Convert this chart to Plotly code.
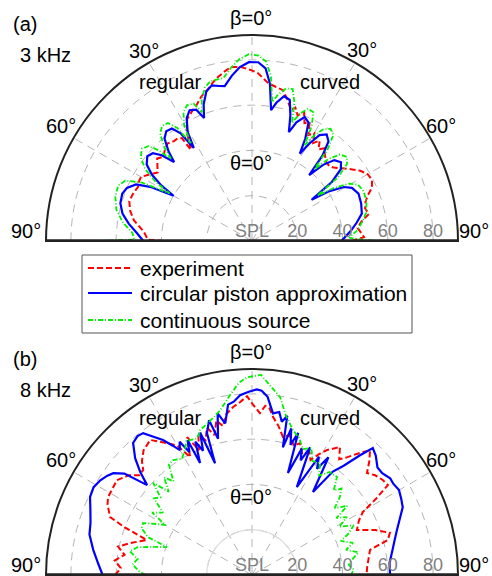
import numpy as np
import plotly.graph_objects as go

# ---------------- data: panel (a) 3 kHz ----------------
theta_a_exp = [-90, -89.3, -85, -80, -76, -72, -68, -64.6, -62, -60, -57, -54, -52, -49, -46.5, -44, -41, -38,
               -36, -34.3, -33.8, -31, -28, -25, -22, -19.5, -16, -14, -11.7, -9, -6.9, -3.6, -0.3, 2, 4, 6,
               8.5, 11.6, 14, 16.6, 18, 20, 22, 24, 26, 28, 30, 32, 34, 36, 38, 40, 43, 46, 48, 51, 54, 57,
               60, 63, 66, 68.5, 71, 74, 77, 80, 83, 86, 88, 90]
r_a_exp = [39, 46, 48, 53, 55.5, 57, 56.5, 55.7, 56.5, 56.6, 54, 51.5, 53, 55.5, 54, 55.5, 57, 56,
           56, 55, 48.4, 56, 61, 63, 65, 67.5, 70, 72, 74, 76, 77.4, 77, 75.5, 74.2, 72, 70,
           69, 68, 64.5, 60.3, 62, 59, 61.5, 57, 58, 53, 55, 51, 53.5, 50, 52, 50, 48, 47.5, 48.5, 51, 54, 57,
           59, 59.5, 58, 55, 53, 52, 53, 49, 47, 48.5, 49.5, 44]

theta_a_pis = [-90, -86, -82, -78, -74, -70, -67, -64, -62, -60, -58.5, -56.5, -54, -51, -48.5, -46.5, -44.6,
               -43, -40.5, -38, -35.5, -33.5, -32, -30.5, -28, -25.5, -23, -21.3, -19.5, -17, -14.5, -12, -10,
               -7, -4, -1, 2, 4.5, 6.5, 8.3, 10, 12.5, 15, 17, 18.7, 20.5, 23, 25.5, 27.5, 28.7, 30.5, 32.5,
               35, 37.5, 39.5, 41, 43, 45.5, 48.5, 51, 53.5, 55.3, 57, 59.5, 62, 66, 71, 76, 80, 84, 90]
r_a_pis = [48, 51, 55, 58.5, 60.5, 61, 60, 57, 51, 40, 47, 53, 57.5, 59.5, 58.5, 55, 49,
           54, 59.5, 61.5, 61, 57, 48.5, 56, 61.5, 64, 63, 58.3, 64, 69, 71, 70, 69.5,
           73.5, 77, 79, 79, 76.5, 70, 58.4, 62, 65.5, 64.5, 58, 50.8, 56, 59.5, 58, 51, 44, 50, 55.5,
           57.5, 55.5, 49, 38.5, 46, 51, 52.5, 50.5, 44, 32, 40, 47, 50, 51.5, 51, 50, 47, 44, 39.5]

theta_a_con = [-90, -89.3, -86, -82, -77, -72, -67.5, -64.5, -62, -60, -58.5, -56, -53, -50, -47.5, -46, -44.6,
               -43, -40.5, -38, -35.5, -33.5, -32, -30.5, -28, -25.5, -23, -21.3, -19.5, -17, -14.5, -12, -10,
               -7, -4, -1, 2, 4.5, 6.5, 8.3, 10, 12.5, 15, 17, 18.7, 20.5, 23, 25.5, 27.5, 28.7, 30.5, 32.5,
               35, 37.5, 39.5, 41, 43, 45.5, 48.5, 51, 53.5, 55.3, 57, 59.5, 62, 66, 71, 76, 80, 84, 88, 89.2, 90]
r_a_con = [68, 52, 53, 57.5, 61.5, 63.5, 64, 62, 55, 42, 50, 57, 61.5, 63.5, 62, 58, 51,
           57, 62.5, 64.5, 64, 60, 51, 59, 64.5, 66.5, 66, 61, 66.5, 71, 73, 73, 73,
           77, 80.5, 82.5, 82, 79.5, 73.5, 62, 65.5, 69, 69.5, 64, 55, 60, 63.5, 63, 57, 48, 54, 58.5,
           60.5, 59, 52.5, 42, 49.5, 54.5, 56, 54, 47, 35, 43, 50, 53, 54, 53.5, 52, 49.5, 47, 43, 48, 55]

# ---------------- data: panel (b) 8 kHz ----------------
theta_b_exp = [-90, -87, -84, -81, -78, -75, -71.6, -69.5, -67.8, -64, -61.6, -58, -54.9, -51, -48.5, -46, -44,
               -41, -37, -35, -32.8, -30, -27.7, -25.2, -23, -21, -19, -17, -15, -13, -11, -9, -6.5, -4, -1.6,
               0.5, 2.8, 4.5, 6, 7.6, 10, 12.7, 15, 18, 20, 22.3, 25, 27, 29, 31, 34.5, 37, 39, 41, 43.4, 46,
               48.4, 51, 54, 56.5, 58.5, 60.4, 63, 66.8, 70, 73, 75.5, 78, 82, 86, 90]
r_b_exp = [60.5, 58, 61, 57, 60.5, 55, 49, 60, 67.7, 71, 72.3, 72.5, 72.9, 70, 66.5, 66.8, 70,
           73, 74.7, 72, 69.3, 66, 58.8, 67.3, 60, 66, 63, 68, 64, 70, 67, 72, 74.6, 76.5, 79,
           75, 71.6, 75, 74, 70.4, 67, 62.4, 64, 60, 62, 58.2, 60, 57, 61, 64.4, 68.6, 64, 67, 71, 75.9, 72,
           67.9, 70, 71.4, 72, 64, 56.3, 53, 50.4, 58, 63.7, 62, 53.3, 52, 51, 50.6]

theta_b_pis = [-90, -86, -81, -76, -72, -68, -64.3, -61, -58, -55.5, -53.7, -51.5, -49.4, -47.4, -45, -42,
               -39.5, -37.5, -35.5, -33.4, -31.5, -30, -28.5, -27, -25.5, -24.9, -23, -21.5, -20, -18.3, -17.6,
               -15.5, -14, -12, -10, -8, -6, -3.8, -1, 1.5, 3, 5, 7.4, 9.5, 11, 12.5, 13.6, 15, 16.5, 18, 19.4,
               21.5, 23, 24.5, 27, 29.5, 31.5, 33, 36.3, 38, 40, 42, 43.6, 46, 49.4, 52, 55, 57, 60, 63, 65.8,
               69, 72.8, 76, 80, 85, 90]
r_b_pis = [66, 68, 71, 74, 75, 77, 79.4, 80, 79, 77.5, 76, 72, 61, 67, 73, 78.5,
           79.5, 79, 75, 71.4, 67, 63.7, 67, 61, 66, 54.5, 64, 59, 67, 52, 65.8,
           71, 62, 73, 68, 76, 77, 79.6, 81, 82, 81.5, 79, 72, 73, 69, 72, 58, 67, 60, 66, 47.8,
           60, 55, 62, 43.6, 60, 55, 62, 45.5, 58, 63, 71, 77.4, 76, 73, 73, 74.5, 74.3, 75, 74, 73,
           70, 67, 65, 63, 61, 61]

theta_b_con = [-90, -88, -85, -82, -79, -76.3, -74, -71.8, -70, -67, -64.5, -62, -60, -58, -55, -52, -49.7,
               -47, -45, -42, -40, -37, -34.5, -31, -28, -26, -22, -19.7, -16, -11, -7, -4, -1.4, 2.6, 5.5, 9,
               12, 15.8, 19, 22, 25, 28, 31.3, 34, 37, 40.9, 44, 46, 48.4, 51, 54, 56, 58.6, 61, 64, 67, 69,
               72.4, 75, 78, 81, 84, 87, 90]
r_b_con = [47, 50, 53, 51, 55, 52, 45, 39.5, 49, 53, 53.3, 48, 44, 52, 48, 55, 53,
           59.7, 52, 58, 54, 61, 61.6, 60, 63, 66, 65, 68, 70, 74, 80, 85, 87.4, 88.5, 84, 79.5,
           72, 66.5, 64, 60, 62, 57, 57.8, 53, 57, 57.3, 52, 55, 51.9, 47, 52, 45, 49.1, 44, 50, 46, 42,
           46.8, 43, 48, 45, 43, 45, 43.7]

# ---------------- axes / labels ----------------
r_max = 91
r_ticks = [0, 20, 40, 60, 80]
r_ticktext = ["SPL", "20", "40", "60", "80"]
ang_grid = [-90, -60, -30, 0, 30, 60, 90]
ang_labels = ["90°", "60°", "30°", "β=0°", "30°", "60°", "90°"]
series_names = ["experiment", "circular piston approximation", "continuous source"]

FONT = "Liberation Sans, Arial, sans-serif"
W, H = 492, 576

fig = go.Figure()

styles = [dict(color="#ff0000", width=2, dash="6px,3px"),
          dict(color="#0000ff", width=2.2),
          dict(color="#00f000", width=1.8, dash="5px,2px,1px,2px")]

panels = [("polar", [(theta_a_exp, r_a_exp), (theta_a_pis, r_a_pis), (theta_a_con, r_a_con)]),
          ("polar2", [(theta_b_exp, r_b_exp), (theta_b_pis, r_b_pis), (theta_b_con, r_b_con)])]

for sub, series in panels:
    if sub == "polar2":
        th = np.linspace(-90, 90, 181)
        fig.add_trace(go.Scatterpolar(r=[20] * len(th), theta=th, mode="lines", subplot=sub,
                                      line=dict(color="#dcdcdc", width=1.2), showlegend=False,
                                      hoverinfo="skip"))
    for (th, rr), st, nm in zip(series, styles, series_names):
        fig.add_trace(go.Scatterpolar(r=rr, theta=th, mode="lines", name=nm, subplot=sub,
                                      line=st, showlegend=False))
    fig.add_trace(go.Scatterpolar(r=[r_max, r_max], theta=[-90, 90], mode="lines", subplot=sub,
                                  line=dict(color="#222222", width=3.5), cliponaxis=False,
                                  showlegend=False, hoverinfo="skip"))


def polar_layout(ydom):
    return dict(
        domain=dict(x=[46 / W, 458 / W], y=ydom),
        sector=[0, 180],
        bgcolor="white",
        radialaxis=dict(range=[0, r_max], tickvals=r_ticks, ticktext=r_ticktext, angle=0,
                        side="counterclockwise", showline=False, ticks="", tickangle=0,
                        gridcolor="#b4b4b4", griddash="8px,6px", gridwidth=1,
                        tickfont=dict(family=FONT, size=18, color="#808080")),
        angularaxis=dict(rotation=90, direction="clockwise", tickmode="array", tickvals=ang_grid,
                         showticklabels=False, showline=True, linecolor="#222222", linewidth=2,
                         ticks="", gridcolor="#b4b4b4", griddash="8px,6px", gridwidth=1),
    )


fig.update_layout(
    width=W, height=H, margin=dict(l=0, r=0, t=0, b=0),
    paper_bgcolor="white", plot_bgcolor="white",
    font=dict(family=FONT, size=20, color="black"),
    polar=polar_layout([1 - 241 / H, 1 - 35 / H]),
    polar2=polar_layout([1 - 575 / H, 1 - 369 / H]),
    showlegend=False,
)

# angular labels (outside the arc) for both panels
lab_pos = [(26, 231), (61, 126), (144, 51), (251, 18), (362, 50), (441, 126), (474, 231)]
for dy in (0, 334):
    for txt, (x, y) in zip(ang_labels, lab_pos):
        fig.add_annotation(text=txt, x=x / W, y=1 - (y + dy) / H, xref="paper", yref="paper",
                           showarrow=False, xanchor="center", yanchor="middle",
                           font=dict(family=FONT, size=20, color="black"))

ann = [("(a)", 25, 24), ("3 kHz", 45, 55), ("regular", 170, 82), ("curved", 330, 82), ("θ=0°", 251, 163),
       ("(b)", 25, 359), ("8 kHz", 45, 390), ("regular", 170, 418), ("curved", 330, 418), ("θ=0°", 251, 497)]
for txt, x, y in ann:
    fig.add_annotation(text=txt, x=x / W, y=1 - y / H, xref="paper", yref="paper", showarrow=False,
                       xanchor="center", yanchor="middle", font=dict(family=FONT, size=20, color="black"))

# legend box (drawn manually to match the compact reference spacing)
fig.add_shape(type="rect", xref="paper", yref="paper", x0=82 / W, x1=412 / W, y0=1 - 333 / H, y1=1 - 255 / H,
              line=dict(color="#555555", width=1), fillcolor="white", layer="above")
leg_rows = [268, 293, 320]
for nm, st, yy in zip(series_names, styles, leg_rows):
    fig.add_shape(type="line", xref="paper", yref="paper", x0=88 / W, x1=132 / W, y0=1 - yy / H, y1=1 - yy / H,
                  line=dict(color=st["color"], width=st["width"], dash=st.get("dash", "solid")), layer="above")
    fig.add_annotation(text=nm, x=138 / W, y=1 - yy / H, xref="paper", yref="paper", showarrow=False,
                       xanchor="left", yanchor="middle", font=dict(family=FONT, size=21, color="black"))

fig.write_html("out.html")
